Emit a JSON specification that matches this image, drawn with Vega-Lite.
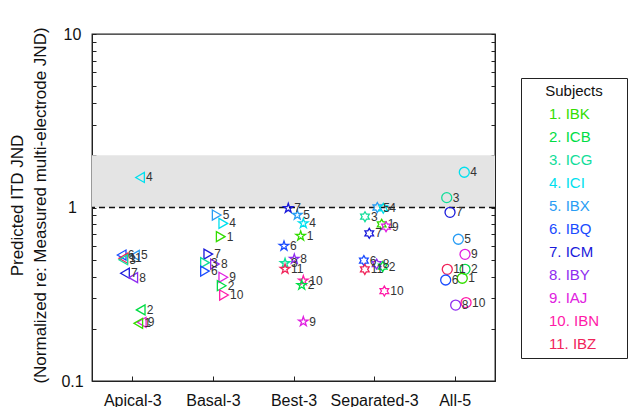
{
  "$schema": "https://vega.github.io/schema/vega-lite/v6.json",
  "width": 403,
  "height": 347,
  "autosize": {"type": "none"},
  "padding": {"left": 92, "top": 34, "right": 135, "bottom": 26},
  "background": "white",
  "config": {
    "font": "Liberation Sans",
    "view": {"stroke": "#222", "strokeWidth": 1.3},
    "axis": {"grid": false, "domainColor": "#222", "tickColor": "#222", "labelColor": "#111", "titleColor": "#111", "labelFont": "Liberation Sans", "titleFont": "Liberation Sans"}
  },
  "datasets": {
    "pts": [
      {"g": "Apical-3", "n": 4, "x": 1.096, "y": 1.49},
      {"g": "Apical-3", "n": 6, "x": 0.868, "y": 0.532},
      {"g": "Apical-3", "n": 5, "x": 1.033, "y": 0.53},
      {"g": "Apical-3", "n": 11, "x": 0.888, "y": 0.51},
      {"g": "Apical-3", "n": 3, "x": 0.888, "y": 0.5},
      {"g": "Apical-3", "n": 7, "x": 0.909, "y": 0.418},
      {"g": "Apical-3", "n": 8, "x": 1.012, "y": 0.394},
      {"g": "Apical-3", "n": 2, "x": 1.104, "y": 0.257},
      {"g": "Apical-3", "n": 9, "x": 1.117, "y": 0.218},
      {"g": "Apical-3", "n": 1, "x": 1.074, "y": 0.215},
      {"g": "Basal-3", "n": 5, "x": 2.047, "y": 0.905},
      {"g": "Basal-3", "n": 4, "x": 2.129, "y": 0.81},
      {"g": "Basal-3", "n": 1, "x": 2.097, "y": 0.679},
      {"g": "Basal-3", "n": 7, "x": 1.943, "y": 0.539},
      {"g": "Basal-3", "n": 3, "x": 1.902, "y": 0.481},
      {"g": "Basal-3", "n": 8, "x": 2.026, "y": 0.472},
      {"g": "Basal-3", "n": 6, "x": 1.902, "y": 0.43},
      {"g": "Basal-3", "n": 9, "x": 2.129, "y": 0.396},
      {"g": "Basal-3", "n": 2, "x": 2.109, "y": 0.354},
      {"g": "Basal-3", "n": 10, "x": 2.138, "y": 0.313},
      {"g": "Best-3", "n": 7, "x": 2.935, "y": 0.99},
      {"g": "Best-3", "n": 5, "x": 3.047, "y": 0.905},
      {"g": "Best-3", "n": 4, "x": 3.122, "y": 0.81},
      {"g": "Best-3", "n": 1, "x": 3.089, "y": 0.685},
      {"g": "Best-3", "n": 6, "x": 2.882, "y": 0.6},
      {"g": "Best-3", "n": 8, "x": 3.01, "y": 0.505},
      {"g": "Best-3", "n": 3, "x": 2.895, "y": 0.477},
      {"g": "Best-3", "n": 11, "x": 2.895, "y": 0.442},
      {"g": "Best-3", "n": 10, "x": 3.122, "y": 0.379},
      {"g": "Best-3", "n": 2, "x": 3.102, "y": 0.357},
      {"g": "Best-3", "n": 9, "x": 3.122, "y": 0.22},
      {"g": "Separated-3", "n": 5, "x": 4.04, "y": 1.0},
      {"g": "Separated-3", "n": 4, "x": 4.114, "y": 0.99},
      {"g": "Separated-3", "n": 3, "x": 3.887, "y": 0.885},
      {"g": "Separated-3", "n": 1, "x": 4.094, "y": 0.8},
      {"g": "Separated-3", "n": 9, "x": 4.148, "y": 0.775},
      {"g": "Separated-3", "n": 7, "x": 3.94, "y": 0.71},
      {"g": "Separated-3", "n": 6, "x": 3.873, "y": 0.494},
      {"g": "Separated-3", "n": 8, "x": 4.032, "y": 0.472},
      {"g": "Separated-3", "n": 11, "x": 3.885, "y": 0.44},
      {"g": "Separated-3", "n": 2, "x": 4.107, "y": 0.456},
      {"g": "Separated-3", "n": 10, "x": 4.127, "y": 0.33},
      {"g": "All-5", "n": 4, "x": 5.119, "y": 1.596},
      {"g": "All-5", "n": 3, "x": 4.901, "y": 1.14},
      {"g": "All-5", "n": 7, "x": 4.942, "y": 0.938},
      {"g": "All-5", "n": 5, "x": 5.045, "y": 0.656},
      {"g": "All-5", "n": 9, "x": 5.128, "y": 0.537},
      {"g": "All-5", "n": 11, "x": 4.908, "y": 0.44},
      {"g": "All-5", "n": 2, "x": 5.128, "y": 0.44},
      {"g": "All-5", "n": 1, "x": 5.094, "y": 0.391},
      {"g": "All-5", "n": 6, "x": 4.888, "y": 0.382},
      {"g": "All-5", "n": 8, "x": 5.012, "y": 0.274},
      {"g": "All-5", "n": 10, "x": 5.141, "y": 0.283}
    ],
    "subjects": [
      {"n": 1, "name": "1. IBK"}, {"n": 2, "name": "2. ICB"}, {"n": 3, "name": "3. ICG"},
      {"n": 4, "name": "4. ICI"}, {"n": 5, "name": "5. IBX"}, {"n": 6, "name": "6. IBQ"},
      {"n": 7, "name": "7. ICM"}, {"n": 8, "name": "8. IBY"}, {"n": 9, "name": "9. IAJ"},
      {"n": 10, "name": "10. IBN"}, {"n": 11, "name": "11. IBZ"}
    ]
  },
  "resolve": {"axis": {"y": "independent"}},
  "layer": [
    {
      "data": {"values": [{"x0": 0.5, "x1": 5.5, "y0": 1, "y1": 2}]},
      "mark": {"type": "rect", "color": "#e4e4e4"},
      "encoding": {
        "x": {"field": "x0", "type": "quantitative",
          "scale": {"domain": [0.5, 5.5], "nice": false, "zero": false},
          "axis": {"values": [1, 2, 3, 4, 5], "labelExpr": "['','Apical-3','Basal-3','Best-3','Separated-3','All-5'][datum.value]", "tickSize": -5, "labelPadding": 16, "labelFontSize": 16, "labelFlush": false, "labelOverlap": false, "title": null}},
        "x2": {"field": "x1"},
        "y": {"field": "y0", "type": "quantitative",
          "scale": {"type": "log", "domain": [0.1, 10], "nice": false},
          "axis": {"values": [0.1, 0.2, 0.3, 0.4, 0.5, 0.6, 0.7, 0.8, 0.9, 1, 2, 3, 4, 5, 6, 7, 8, 9, 10],
            "labelExpr": "datum.value == 0.1 ? '0.1' : datum.value == 1 ? '1' : datum.value == 10 ? '10' : ''",
            "labelOverlap": false, "labelFlush": false, "tickSize": -4, "labelAlign": "center", "labelPadding": 24, "labelFontSize": 16,
            "title": ["Predicted ITD JND", "(Normalized re: Measured multi-electrode JND)"],
            "titleFontSize": 17, "titleFontWeight": "normal", "titleLineHeight": 23, "titleX": -66, "titleY": 171, "titleBaseline": "bottom"}},
        "y2": {"field": "y1"}
      }
    },
    {
      "data": {"values": [{"y": 1}]},
      "mark": {"type": "rule", "color": "#111", "strokeDash": [6, 4], "strokeWidth": 1.3},
      "encoding": {
        "y": {"field": "y", "type": "quantitative",
          "axis": {"orient": "right", "values": [0.1, 0.2, 0.3, 0.4, 0.5, 0.6, 0.7, 0.8, 0.9, 1, 2, 3, 4, 5, 6, 7, 8, 9, 10], "labels": false, "tickSize": -4, "title": null}}
      }
    },
    {
      "data": {"name": "pts"},
      "transform": [{"lookup": "n", "from": {"data": {"name": "subjects"}, "key": "n", "fields": ["name"]}}],
      "mark": {"type": "point", "filled": false, "strokeWidth": 1.3, "opacity": 1},
      "encoding": {
        "x": {"field": "x", "type": "quantitative"},
        "y": {"field": "y", "type": "quantitative", "axis": null},
        "shape": {"field": "g", "type": "nominal", "legend": null,
          "scale": {"domain": ["Apical-3", "Basal-3", "Best-3", "Separated-3", "All-5"],
            "range": ["triangle-left", "triangle-right", "M0,-1L0.2245,-0.309L0.951,-0.309L0.363,0.118L0.588,0.809L0,0.382L-0.588,0.809L-0.363,0.118L-0.951,-0.309L-0.2245,-0.309Z", "M0,-1L-0.289,-0.5L-0.866,-0.5L-0.577,0L-0.866,0.5L-0.289,0.5L0,1L0.289,0.5L0.866,0.5L0.577,0L0.866,-0.5L0.289,-0.5Z", "circle"]}},
        "size": {"field": "g", "type": "nominal", "legend": null,
          "scale": {"domain": ["Apical-3", "Basal-3", "Best-3", "Separated-3", "All-5"], "range": [100, 100, 130, 150, 90]}},
        "color": {"field": "name", "type": "nominal",
          "scale": {"domain": ["1. IBK", "2. ICB", "3. ICG", "4. ICI", "5. IBX", "6. IBQ", "7. ICM", "8. IBY", "9. IAJ", "10. IBN", "11. IBZ"],
            "range": ["#33dd00", "#00dd44", "#11dd99", "#00e0ee", "#2a9df4", "#1a4cff", "#1a1adb", "#8f2cf0", "#e020e0", "#ff1aa8", "#f0245a"]},
          "legend": {"orient": "none", "legendX": 429, "legendY": 44, "title": "Subjects", "titleFontSize": 15, "titleFontWeight": "normal", "titleColor": "#111", "titleAnchor": "middle", "titlePadding": 7,
            "labelFontSize": 15, "labelAlign": "left", "symbolSize": 256, "symbolOpacity": 0, "symbolStrokeWidth": 0, "symbolOffset": 78, "labelOffset": -72, "rowPadding": 7, "padding": 6,
            "strokeColor": "#222", "fillColor": "white",
            "labelColor": {"expr": "scale('color', datum.value)"}}}
      }
    },
    {
      "data": {"name": "pts"},
      "mark": {"type": "text", "align": "left", "baseline": "middle", "dx": 6, "fontSize": 12, "color": "#333"},
      "encoding": {
        "x": {"field": "x", "type": "quantitative"},
        "y": {"field": "y", "type": "quantitative", "axis": null},
        "text": {"field": "n", "type": "nominal"}
      }
    }
  ]
}
